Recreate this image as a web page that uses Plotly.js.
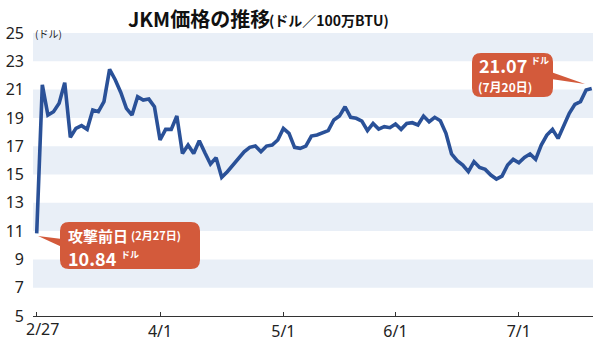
<!DOCTYPE html>
<html><head><meta charset="utf-8">
<script src="https://cdn.plot.ly/plotly-3.0.1.min.js"></script>
<style>html,body{margin:0;padding:0;background:#fff}</style>
</head><body>
<div id="chart" style="width:600px;height:360px"></div>
<script>
// JKM price (USD / MMBtu), one value per assessment day from 2/27 to 7/20
const prices = [
  10.84, 21.33, 19.2, 19.44, 20.03, 21.49, 17.63, 18.26, 18.45, 18.19,
  19.56, 19.44, 20.15, 22.43, 21.7, 20.8, 19.68, 19.2, 20.5, 20.26,
  20.33, 19.79, 17.44, 18.19, 18.19, 19.13, 16.49, 17.08, 16.49, 17.39,
  16.54, 15.74, 16.19, 14.8, 15.2, 15.67, 16.14, 16.61, 16.92, 17.01,
  16.61, 17.01, 17.08, 17.44, 18.26, 17.91, 16.92, 16.85, 17.01, 17.72,
  17.79, 17.95, 18.1, 18.85, 19.13, 19.79, 19.04, 18.97, 18.78, 18.1,
  18.61, 18.21, 18.38, 18.31, 18.57, 18.19, 18.61, 18.66, 18.5, 19.13,
  18.73, 19.04, 18.8, 17.91, 16.45, 15.98, 15.67, 15.2, 15.91, 15.5,
  15.36, 14.96, 14.68, 14.89, 15.67, 16.07, 15.83, 16.21, 16.45, 16.07,
  17.08, 17.79, 18.19, 17.55, 18.5, 19.32, 19.96, 20.15, 20.97, 21.07
];
const tickIdx = [0, 22, 44, 64, 86];
const tickLabels = ['2/27', '4/1', '5/1', '6/1', '7/1'];
const yTicks = [5, 7, 9, 11, 13, 15, 17, 19, 21, 23, 25];
const startLabel = {head: '攻撃前日', date: '(2月27日)', value: '10.84'};
const endLabel = {value: '21.07', date: '(7月20日)'};

const FONT = '"Noto Sans CJK JP", "Noto Sans", sans-serif';
const W = 600, H = 360, L = 33, R = 7, T = 33, B = 44;
const pw = W - L - R, ph = H - T - B;
const px = x => (x - L) / pw;
const py = y => (H - B - y) / ph;

function roundRect(x0, y0, x1, y1, r) {
  const rx = r / pw, ry = r / ph;
  const a = px(x0), b = px(x1), top = py(y0), bot = py(y1);
  return `M${a + rx},${top} L${b - rx},${top} Q${b},${top} ${b},${top - ry} ` +
    `L${b},${bot + ry} Q${b},${bot} ${b - rx},${bot} L${a + rx},${bot} ` +
    `Q${a},${bot} ${a},${bot + ry} L${a},${top - ry} Q${a},${top} ${a + rx},${top} Z`;
}
function tri(p) {
  return 'M' + p.map(q => `${px(q[0])},${py(q[1])}`).join(' L') + ' Z';
}

const CALL = '#d35a3b';
const shapes = [];
for (let i = 1; i < yTicks.length; i += 2) {
  shapes.push({type: 'rect', xref: 'paper', yref: 'y', x0: 0, x1: 1,
    y0: yTicks[i], y1: yTicks[i + 1], fillcolor: '#e9eff7', line: {width: 0}, layer: 'below'});
}
shapes.push({type: 'path', xref: 'paper', yref: 'paper', path: roundRect(60, 222, 200, 269, 9),
  fillcolor: CALL, line: {width: 0}, layer: 'above'});
shapes.push({type: 'path', xref: 'paper', yref: 'paper', path: tri([[38, 236], [62, 239], [62, 247]]),
  fillcolor: CALL, line: {width: 0}, layer: 'above'});
shapes.push({type: 'path', xref: 'paper', yref: 'paper', path: roundRect(472, 53, 553, 97, 9),
  fillcolor: CALL, line: {width: 0}, layer: 'above'});
shapes.push({type: 'path', xref: 'paper', yref: 'paper', path: tri([[551, 72], [551, 79], [585, 84]]),
  fillcolor: CALL, line: {width: 0}, layer: 'above'});

function ann(text, x, y, size, opts) {
  return Object.assign({xref: 'paper', yref: 'paper', x: px(x), y: py(y), text: text,
    showarrow: false, xanchor: 'left', yanchor: 'middle', borderpad: 0,
    font: {family: FONT, size: size, color: '#fff'}}, opts || {});
}

const annotations = [
  ann('<b>JKM価格の推移</b>', 127, 18, 20, {font: {family: FONT, size: 20, color: '#111'}}),
  ann('<b>(ドル／100万BTU)</b>', 268, 20, 14, {font: {family: FONT, size: 14, color: '#111'}}),
  ann('(ドル)', 34, 33, 10, {font: {family: FONT, size: 10, color: '#222'}}),
  ann(tickLabels[0], 42, 329, 16, {xanchor: 'center',
    font: {family: '"Noto Sans", sans-serif', size: 16, color: '#222'}}),
  ann('<b>' + startLabel.head + '</b>', 67, 235, 15),
  ann('<b>' + startLabel.date + '</b>', 130, 235, 11),
  ann('<b>' + startLabel.value + '</b>', 67, 258, 18),
  ann('<b>ドル</b>', 120, 254, 9),
  ann('<b>' + endLabel.value + '</b>', 478, 65, 18),
  ann('<b>ドル</b>', 530, 60, 9),
  ann('<b>' + endLabel.date + '</b>', 477, 86, 12)
];

const trace = {
  type: 'scatter', mode: 'lines',
  x: prices.map((_, i) => i), y: prices,
  line: {color: '#2a5198', width: 3.6, shape: 'linear'},
  hoverinfo: 'skip'
};

const layout = {
  width: W, height: H,
  margin: {l: L, r: R, t: T, b: B, pad: 0},
  paper_bgcolor: '#fff', plot_bgcolor: '#fff',
  showlegend: false,
  font: {family: FONT},
  xaxis: {
    range: [-0.66, 99.23], tickmode: 'array', tickvals: tickIdx,
    ticktext: [''].concat(tickLabels.slice(1)),
    ticks: 'inside', ticklen: 4, tickwidth: 1, tickcolor: '#333',
    showline: true, linecolor: '#333', linewidth: 1.3,
    showgrid: false, zeroline: false,
    tickfont: {family: '"Noto Sans", sans-serif', size: 16, color: '#222'}
  },
  yaxis: {
    range: [5, 25], tickmode: 'array', tickvals: yTicks,
    showgrid: false, zeroline: false, showline: false, ticks: '',
    ticklabelstandoff: 8,
    tickfont: {family: '"Noto Sans", sans-serif', size: 16, color: '#222'}
  },
  shapes: shapes,
  annotations: annotations
};

Plotly.newPlot('chart', [trace], layout, {displayModeBar: false, staticPlot: true});
</script>
</body></html>
